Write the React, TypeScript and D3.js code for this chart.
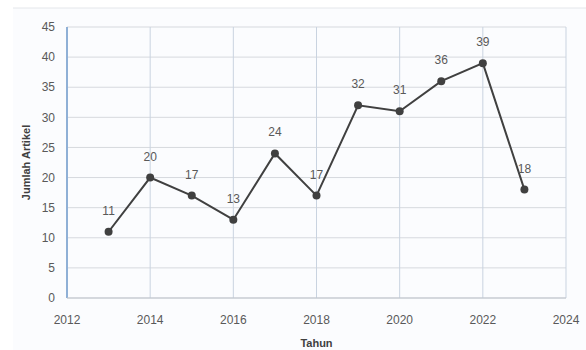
import React from "react";
import * as d3 from "d3";

const years = [2013, 2014, 2015, 2016, 2017, 2018, 2019, 2020, 2021, 2022, 2023];
const counts = [11, 20, 17, 13, 24, 17, 32, 31, 36, 39, 18];
const xTicks = [2012, 2014, 2016, 2018, 2020, 2022, 2024];
const yTicks = [0, 5, 10, 15, 20, 25, 30, 35, 40, 45];
const xTitle = "Tahun";
const yTitle = "Jumlah Artikel";

export default function App() {
  const W = 586, H = 350;
  const x = d3.scaleLinear().domain([2012, 2024]).range([67, 566]);
  const y = d3.scaleLinear().domain([0, 45]).range([298, 27]);
  const line = d3.line<number>().x((_, i) => x(years[i])).y((d) => y(d));
  const font = "'Liberation Sans', Arial, sans-serif";
  return (
    <svg width={W} height={H} style={{ position: "absolute", left: 0, top: 0 }}>
      <rect x={0} y={0} width={W} height={H} fill="#ffffff" />
      <rect x={13} y={8} width={W - 13} height={H - 8} fill="#fbfcfe" />
      <line x1={13} x2={W} y1={8} y2={8} stroke="#e4e6ea" strokeWidth={1} />
      {yTicks.map((t) => (
        <line key={"gy" + t} x1={x(2012)} x2={x(2024)} y1={y(t)} y2={y(t)} stroke="#d6d9de" strokeWidth={1} />
      ))}
      {xTicks.map((t) => (
        <line key={"gx" + t} x1={x(t)} x2={x(t)} y1={y(45)} y2={y(0)} stroke="#c9d3e0" strokeWidth={1} />
      ))}
      <line x1={x(2012)} x2={x(2012)} y1={y(45)} y2={y(0)} stroke="#8fb0d6" strokeWidth={2} />
      <line x1={x(2012)} x2={x(2024)} y1={y(0)} y2={y(0)} stroke="#bfc5cc" strokeWidth={1} />
      {yTicks.map((t) => (
        <text key={"ty" + t} x={55} y={y(t)} dy="0.35em" textAnchor="end" fontFamily={font} fontSize={12} fill="#595959">
          {t}
        </text>
      ))}
      {xTicks.map((t) => (
        <text key={"tx" + t} x={x(t)} y={324} textAnchor="middle" fontFamily={font} fontSize={12} fill="#595959">
          {t}
        </text>
      ))}
      <text x={x(2018)} y={347} textAnchor="middle" fontFamily={font} fontSize={11} fontWeight="bold" fill="#404040">
        {xTitle}
      </text>
      <text transform={`translate(30,${y(22.5)}) rotate(-90)`} textAnchor="middle" fontFamily={font} fontSize={11} fontWeight="bold" fill="#404040">
        {yTitle}
      </text>
      <path d={line(counts) || ""} fill="none" stroke="#404040" strokeWidth={2} />
      {counts.map((c, i) => (
        <circle key={"p" + i} cx={x(years[i])} cy={y(c)} r={4} fill="#404040" />
      ))}
      {counts.map((c, i) => (
        <text key={"l" + i} x={x(years[i])} y={y(c) - 17} textAnchor="middle" fontFamily={font} fontSize={12} fill="#595959">
          {c}
        </text>
      ))}
    </svg>
  );
}
